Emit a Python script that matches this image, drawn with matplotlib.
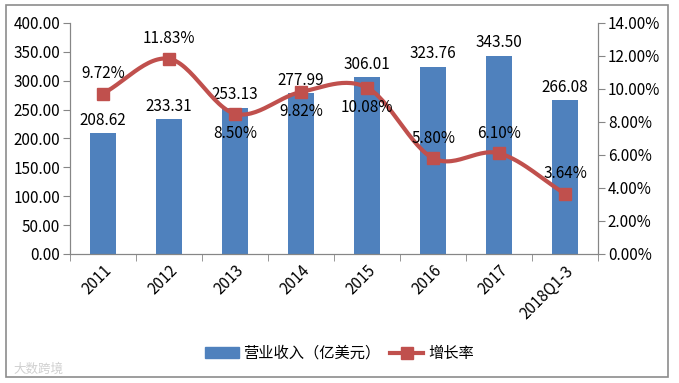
import matplotlib
matplotlib.use("Agg")
import matplotlib.pyplot as plt
import numpy as np
from matplotlib.patches import Rectangle
from matplotlib.lines import Line2D
from matplotlib.patches import Patch
from matplotlib.ticker import FuncFormatter

plt.rcParams['font.family'] = ['Noto Sans CJK SC', 'DejaVu Sans']

categories = ['2011', '2012', '2013', '2014', '2015', '2016', '2017', '2018Q1-3']
revenue = [208.62, 233.31, 253.13, 277.99, 306.01, 323.76, 343.50, 266.08]
growth = [9.72, 11.83, 8.50, 9.82, 10.08, 5.80, 6.10, 3.64]
# label above (1) or below (-1) the marker
growth_pos = [1, 1, -1, -1, -1, 1, 1, 1]

bar_color = '#4F81BD'
line_color = '#C0504D'
grid_gray = '#868686'
fs = 11


def smooth(xs, ys, n=30):
    # catmull-rom curve through the points, like the office "smoothed line"
    xs = np.asarray(xs, float)
    ys = np.asarray(ys, float)
    px = np.concatenate([[2 * xs[0] - xs[1]], xs, [2 * xs[-1] - xs[-2]]])
    py = np.concatenate([[2 * ys[0] - ys[1]], ys, [2 * ys[-1] - ys[-2]]])
    outx, outy = [], []
    t = np.linspace(0, 1, n)
    for i in range(1, len(px) - 2):
        for p, out in ((px, outx), (py, outy)):
            p0, p1, p2, p3 = p[i - 1], p[i], p[i + 1], p[i + 2]
            out.extend(0.5 * (2 * p1 + (-p0 + p2) * t
                              + (2 * p0 - 5 * p1 + 4 * p2 - p3) * t ** 2
                              + (-p0 + 3 * p1 - 3 * p2 + p3) * t ** 3))
    return np.array(outx), np.array(outy)


fig = plt.figure(figsize=(6.79, 3.83), dpi=100)
fig.patches.append(Rectangle((0.009, 0.015), 0.975, 0.972, transform=fig.transFigure,
                             fill=False, edgecolor='#8c8c8c', linewidth=1.2))
ax = fig.add_axes([0.103, 0.337, 0.778, 0.603])
ax2 = ax.twinx()

x = np.arange(len(categories))
ax.bar(x, revenue, width=0.4, color=bar_color, zorder=2)
for xi, v in zip(x, revenue):
    ax.text(xi, v + 8, f'{v:.2f}', ha='center', va='bottom', fontsize=fs, color='black')

sx, sy = smooth(x, growth)
ax2.plot(sx, sy, color=line_color, linewidth=3, zorder=3)
ax2.plot(x, growth, linestyle='none', marker='s', markersize=9, color=line_color, zorder=4)
for xi, v, p in zip(x, growth, growth_pos):
    off = 0.7 if p > 0 else -0.7
    ax2.text(xi, v + off, f'{v:.2f}%', ha='center', va='bottom' if p > 0 else 'top',
             fontsize=fs, color='black', zorder=5)

ax.set_xlim(-0.5, len(categories) - 0.5)
ax.set_ylim(0, 400)
ax.set_yticks(np.arange(0, 401, 50))
ax.yaxis.set_major_formatter(FuncFormatter(lambda v, _: f'{v:.2f}'))
ax2.set_ylim(0, 14)
ax2.set_yticks(np.arange(0, 15, 2))
ax2.yaxis.set_major_formatter(FuncFormatter(lambda v, _: f'{v:.2f}%'))

ax.set_xticks(x)
ax.set_xticklabels(categories, rotation=45, ha='right', rotation_mode='anchor', fontsize=fs)
ax.set_xticks(np.arange(-0.5, len(categories), 1), minor=True)
ax.tick_params(axis='x', which='major', length=0, pad=6)
ax.tick_params(axis='x', which='minor', length=5, color=grid_gray)
ax.tick_params(axis='y', length=5, color=grid_gray, labelsize=fs, pad=2)
ax2.tick_params(axis='y', length=5, color=grid_gray, labelsize=fs, pad=2)

for a in (ax, ax2):
    a.spines['top'].set_visible(False)
    for s in ('left', 'right', 'bottom'):
        a.spines[s].set_color(grid_gray)

handles = [Patch(color=bar_color),
           Line2D([], [], color=line_color, linewidth=3, marker='s', markersize=9)]
fig.legend(handles, ['营业收入（亿美元）', '增长率'], loc='center', bbox_to_anchor=(0.5, 0.077),
           ncol=2, frameon=False, fontsize=fs, handlelength=2.2, columnspacing=0.6,
           handletextpad=0.3)

fig.text(0.02, 0.035, '大数跨境', fontsize=9, color='#d0d0d0', ha='left', va='center')

fig.savefig('out.png', dpi=100)
